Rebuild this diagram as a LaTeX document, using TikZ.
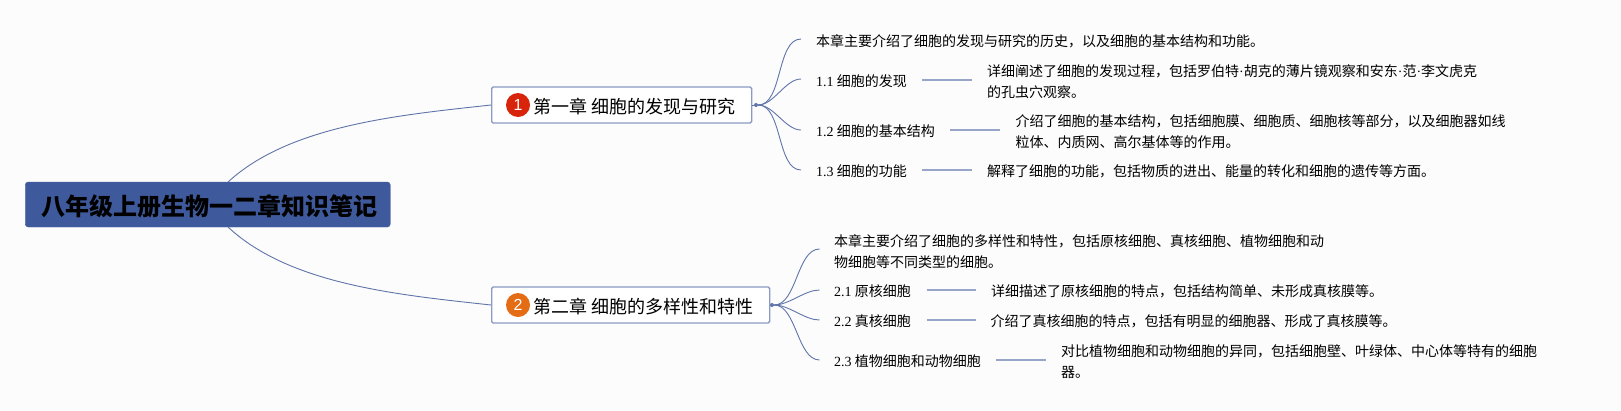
\documentclass[tikz,border=0pt]{standalone}
\usepackage{fontspec}
\setmainfont{Noto Sans CJK SC}
\newfontfamily\lat{Liberation Serif}
\newfontfamily\badgefont{Liberation Sans}
\definecolor{bgc}{HTML}{FCFCFD}
\definecolor{rootc}{HTML}{3F5A9C}
\definecolor{edgec}{HTML}{5F74A8}
\definecolor{linec}{HTML}{98A5C8}
\definecolor{boxc}{HTML}{8C9BC3}
\definecolor{redc}{HTML}{D8240A}
\definecolor{orangec}{HTML}{E46C14}
\tikzset{
  x=1pt,y=-1pt,
  rootbox/.style={draw=rootc,fill=rootc,rounded corners=3pt,minimum width=365pt,minimum height=45pt,inner sep=0pt,text=black},
  roottext/.style={inner sep=0pt,font=\fontsize{24}{28}\selectfont\bfseries,text=black},
  chapbox/.style={draw=boxc,fill=white,line width=1.4pt,rounded corners=1.5pt,minimum height=36pt,inner sep=0pt,anchor=west},
  chaptext/.style={anchor=west,inner sep=0pt,font=\fontsize{18}{20}\selectfont,text=black},
  badge/.style={circle,minimum size=24pt,inner sep=0pt,text=white,font=\badgefont\fontsize{16}{16}\selectfont},
  leaf/.style={anchor=west,inner sep=0pt,align=left,font=\fontsize{14}{21}\selectfont,text=black},
  rootedge/.style={draw=edgec,line width=.9pt},
  branch/.style={draw=edgec,line width=.9pt},
  linkline/.style={draw=linec,line width=1.4pt},
  hubdot/.style={circle,fill=edgec,minimum size=4pt,inner sep=0pt}
}
\begin{document}
\begin{tikzpicture}
\useasboundingbox (0,0) rectangle (1621,410);
\fill[bgc] (0,0) rectangle (1621,410);
% root
\node[rootbox] (root) at (207.75,204.5) {};
\node[roottext] (roott) at (209.5,206.5) {八年级上册生物一二章知识笔记};
\coordinate (rootT) at (228,182);
\coordinate (rootB) at (228,227);
% chapter boxes
\node[chapbox,minimum width=260pt] (ch1) at (491,105) {};
\node[chapbox,minimum width=278pt] (ch2) at (491,305) {};
\node[badge,fill=redc] (b1) at (518,105) {1};
\node[badge,fill=orangec] (b2) at (518,305) {2};
\node[chaptext] (t1) at (533,107) {第一章 细胞的发现与研究};
\node[chaptext] (t2) at (533,307) {第二章 细胞的多样性和特性};
\draw[rootedge] (rootT) .. controls (290,125) and (400,115) .. (ch1.west);
\draw[rootedge] (rootB) .. controls (290,285) and (400,295) .. (ch2.west);
% hubs
\node[hubdot] (h1) at (756,105) {};
\node[hubdot] (h2) at (772,305) {};
\draw[rootedge] (ch1.east) -- (h1);
\draw[rootedge] (ch2.east) -- (h2);
% chapter 1 leaves
\node[leaf] (a0) at (816,41.5) {本章主要介绍了细胞的发现与研究的历史，以及细胞的基本结构和功能。};
\node[leaf] (a1) at (816,81.5) {{\lat 1.1} 细胞的发现};
\node[leaf] (a2) at (816,131.5) {{\lat 1.2} 细胞的基本结构};
\node[leaf] (a3) at (816,171.5) {{\lat 1.3} 细胞的功能};
\node[leaf] (d1) at (987,81.5) {详细阐述了细胞的发现过程，包括罗伯特{\lat ·}胡克的薄片镜观察和安东{\lat ·}范{\lat ·}李文虎克\\的孔虫穴观察。};
\node[leaf] (d2) at (1015.5,131.5) {介绍了细胞的基本结构，包括细胞膜、细胞质、细胞核等部分，以及细胞器如线\\粒体、内质网、高尔基体等的作用。};
\node[leaf] (d3) at (987,171.5) {解释了细胞的功能，包括物质的进出、能量的转化和细胞的遗传等方面。};
\coordinate (e0) at (801,39);
\coordinate (e1) at (801,79);
\coordinate (e2) at (801,130);
\coordinate (e3) at (801,170);
\foreach \e in {e0,e1,e2,e3}{\draw[branch] (h1) to[out=0,in=180,looseness=.8] (\e);}
\coordinate (l1a) at (922,80);\coordinate (l1b) at (972,80);
\coordinate (l2a) at (950,130);\coordinate (l2b) at (1000,130);
\coordinate (l3a) at (922,170);\coordinate (l3b) at (972,170);
\draw[linkline] (l1a) -- (l1b);
\draw[linkline] (l2a) -- (l2b);
\draw[linkline] (l3a) -- (l3b);
% chapter 2 leaves
\node[leaf] (c0) at (834,251.5) {本章主要介绍了细胞的多样性和特性，包括原核细胞、真核细胞、植物细胞和动\\物细胞等不同类型的细胞。};
\node[leaf] (c1) at (834,291.5) {{\lat 2.1} 原核细胞};
\node[leaf] (c2) at (834,321.5) {{\lat 2.2} 真核细胞};
\node[leaf] (c3) at (834,361.5) {{\lat 2.3} 植物细胞和动物细胞};
\node[leaf] (f1) at (991,291.5) {详细描述了原核细胞的特点，包括结构简单、未形成真核膜等。};
\node[leaf] (f2) at (990.5,321.5) {介绍了真核细胞的特点，包括有明显的细胞器、形成了真核膜等。};
\node[leaf] (f3) at (1061,361.5) {对比植物细胞和动物细胞的异同，包括细胞壁、叶绿体、中心体等特有的细胞\\器。};
\coordinate (g0) at (819.5,249);
\coordinate (g1) at (819.5,290);
\coordinate (g2) at (819.5,320);
\coordinate (g3) at (819.5,360);
\foreach \e in {g0,g1,g2,g3}{\draw[branch] (h2) to[out=0,in=180,looseness=.8] (\e);}
\coordinate (m1a) at (926.5,290);\coordinate (m1b) at (976,290);
\coordinate (m2a) at (926.5,320);\coordinate (m2b) at (976,320);
\coordinate (m3a) at (996,360);\coordinate (m3b) at (1046,360);
\draw[linkline] (m1a) -- (m1b);
\draw[linkline] (m2a) -- (m2b);
\draw[linkline] (m3a) -- (m3b);
\end{tikzpicture}
\end{document}
